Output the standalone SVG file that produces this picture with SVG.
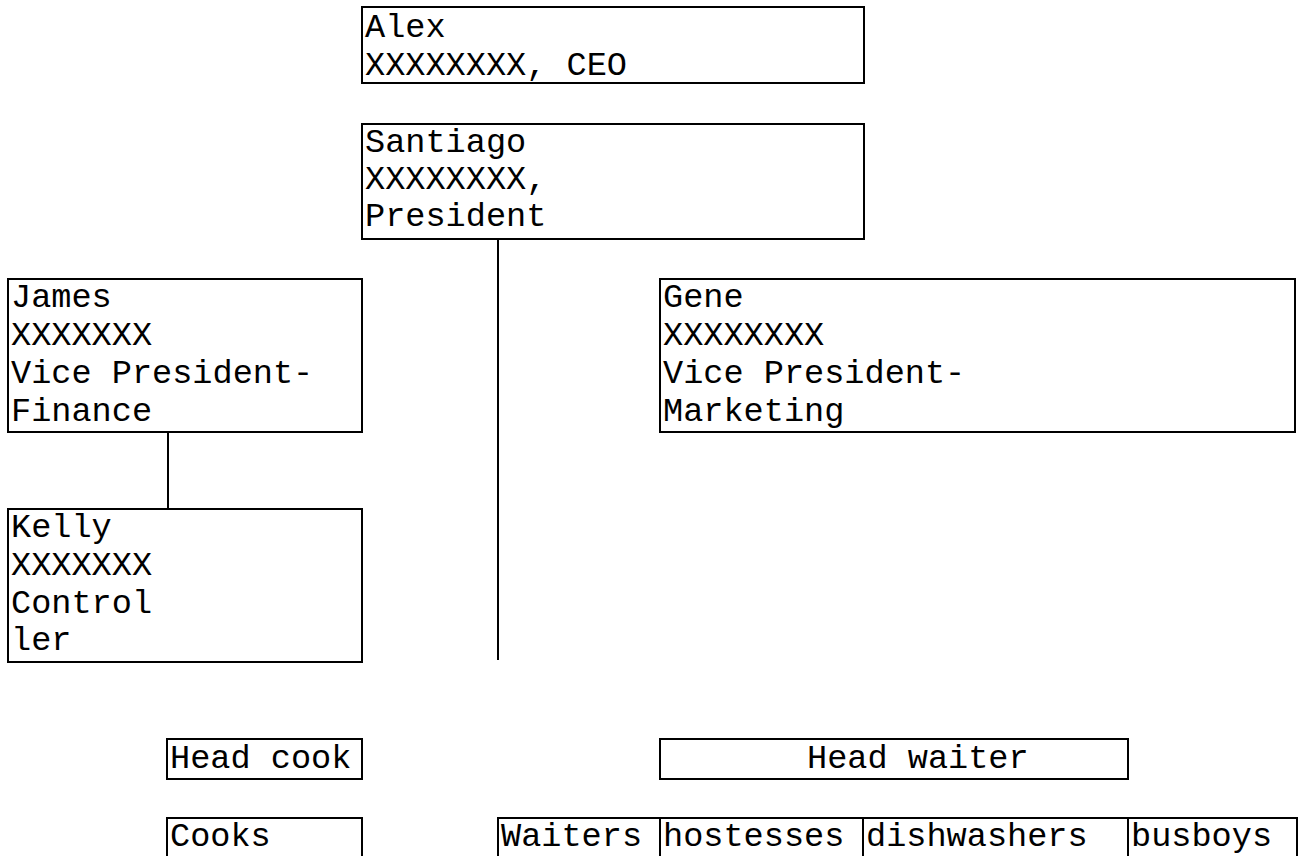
<svg xmlns="http://www.w3.org/2000/svg" width="1301" height="856" viewBox="0 0 1301 856">
<style>
rect{fill:#fff;stroke:#000;stroke-width:2}
text{font-family:"Courier New","Nimbus Mono PS","FreeMono","Liberation Mono",monospace;font-size:33.6px;fill:#000}
line{stroke:#000;stroke-width:2}
</style>
<rect x="0" y="0" width="1301" height="856" style="stroke:none"/>
<g id="connectors">
<line x1="498" y1="239" x2="498" y2="660"/>
<line x1="168" y1="432" x2="168" y2="509"/>
</g>
<g id="alex"><rect x="362" y="7" width="502" height="76"/><text x="365" y="37">Alex</text><text x="365" y="75">XXXXXXXX, CEO</text></g>
<g id="santiago"><rect x="362" y="124" width="502" height="115"/><text x="365" y="152">Santiago</text><text x="365" y="189">XXXXXXXX,</text><text x="365" y="226">President</text></g>
<g id="james"><rect x="8" y="279" width="354" height="153"/><text x="11" y="307">James</text><text x="11" y="345">XXXXXXX</text><text x="11" y="383">Vice President-</text><text x="11" y="421">Finance</text></g>
<g id="gene"><rect x="660" y="279" width="635" height="153"/><text x="663" y="307">Gene</text><text x="663" y="345">XXXXXXXX</text><text x="663" y="383">Vice President-</text><text x="663" y="421">Marketing</text></g>
<g id="kelly"><rect x="8" y="509" width="354" height="153"/><text x="11" y="537">Kelly</text><text x="11" y="575">XXXXXXX</text><text x="11" y="613">Control</text><text x="11" y="650">ler</text></g>
<g id="headcook"><rect x="167" y="739" width="195" height="40"/><text x="170" y="768">Head cook</text></g>
<g id="headwaiter"><rect x="660" y="739" width="468" height="40"/><text x="807" y="768">Head waiter</text></g>
<g id="cooks"><rect x="167" y="818" width="195" height="60"/><text x="170" y="846">Cooks</text></g>
<g id="waiters"><rect x="498" y="818" width="162" height="60"/><text x="501" y="846">Waiters</text></g>
<g id="hostesses"><rect x="660" y="818" width="203" height="60"/><text x="663" y="846">hostesses</text></g>
<g id="dishwashers"><rect x="863" y="818" width="265" height="60"/><text x="866" y="846">dishwashers</text></g>
<g id="busboys"><rect x="1128" y="818" width="169" height="60"/><text x="1131" y="846">busboys</text></g>
</svg>
